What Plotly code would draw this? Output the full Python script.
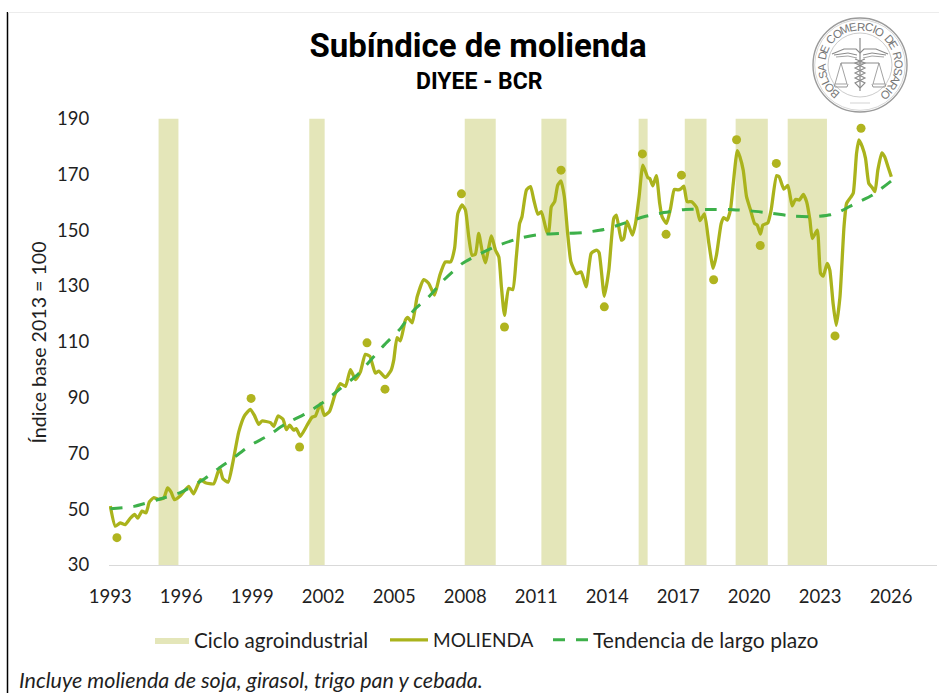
import math
import plotly.graph_objects as go

W, H = 939, 693

# ---------- data ----------
molienda_year = [1993.00,1993.21,1993.42,1993.63,1993.85,1994.03,1994.16,1994.34,1994.51,1994.65,1994.83,1995.04,1995.26,1995.42,1995.57,1995.71,1995.96,1996.31,1996.52,1996.81,1997.02,1997.37,1997.62,1997.76,1997.98,1998.17,1998.43,1998.68,1998.92,1999.09,1999.27,1999.41,1999.77,1999.91,2000.09,2000.30,2000.44,2000.58,2000.75,2000.86,2001.03,2001.32,2001.53,2001.67,2001.88,2002.05,2002.27,2002.51,2002.72,2002.94,2003.15,2003.36,2003.57,2003.78,2003.97,2004.20,2004.35,2004.63,2004.87,2004.98,2005.12,2005.26,2005.47,2005.57,2005.76,2005.97,2006.25,2006.46,2006.70,2006.93,2007.16,2007.38,2007.55,2007.69,2007.87,2008.01,2008.15,2008.29,2008.43,2008.57,2008.71,2008.85,2009.11,2009.28,2009.42,2009.53,2009.66,2009.84,2010.01,2010.16,2010.30,2010.40,2010.59,2010.76,2010.90,2011.07,2011.22,2011.46,2011.53,2011.64,2011.78,2011.91,2012.05,2012.19,2012.33,2012.47,2012.70,2012.90,2013.11,2013.32,2013.46,2013.57,2013.66,2013.88,2014.07,2014.28,2014.39,2014.60,2014.70,2014.84,2015.07,2015.20,2015.35,2015.51,2015.72,2015.80,2015.93,2016.08,2016.22,2016.32,2016.51,2016.68,2016.84,2017.00,2017.13,2017.24,2017.38,2017.57,2017.78,2017.92,2018.11,2018.30,2018.48,2018.62,2018.82,2018.93,2019.07,2019.21,2019.33,2019.50,2019.61,2019.75,2019.89,2020.06,2020.23,2020.34,2020.48,2020.58,2020.79,2020.93,2021.16,2021.27,2021.47,2021.64,2021.82,2021.96,2022.13,2022.29,2022.43,2022.57,2022.67,2022.88,2023.02,2023.13,2023.30,2023.41,2023.55,2023.68,2023.84,2024.01,2024.12,2024.29,2024.40,2024.54,2024.64,2024.78,2024.92,2025.06,2025.20,2025.32,2025.44,2025.61,2025.73,2025.87,2026.01]
molienda_value = [51.1,43.9,45.1,44.5,46.8,48.1,46.8,49.3,48.7,52.6,54.1,53.5,54.0,57.6,56.1,53.4,54.8,58.2,55.5,60.6,59.5,59.1,64.9,60.9,59.7,66.3,77.7,83.6,85.8,83.6,80.4,81.6,81.0,79.7,83.4,82.2,78.5,80.1,78.3,78.9,76.1,80.1,83.0,83.4,87.8,83.6,85.1,91.4,95.0,94.0,100.0,96.4,99.2,105.5,104.8,98.8,99.5,97.2,99.8,103.4,111.5,110.3,117.7,118.7,116.8,126.1,132.3,130.9,126.7,133.9,138.6,138.6,143.4,156.0,159.0,157.2,147.6,141.0,141.4,148.8,142.8,138.3,147.9,142.8,140.4,129.7,119.5,129.1,128.7,140.4,152.4,154.8,164.4,165.6,160.8,155.7,156.6,149.1,149.4,158.4,160.2,166.1,167.6,162.0,148.8,138.6,134.4,135.0,129.7,141.6,142.5,142.8,141.9,126.3,135.6,154.2,155.4,146.4,147.0,153.2,148.2,152.4,162.0,173.3,168.8,168.5,165.9,169.5,159.6,154.8,152.4,157.8,164.6,164.4,164.9,165.8,160.2,160.2,158.1,153.4,155.8,145.2,136.3,141.1,152.4,154.5,153.6,157.2,166.7,178.5,176.3,171.5,162.0,157.2,152.4,151.8,148.6,151.8,152.6,157.2,169.5,169.1,164.7,166.0,158.7,161.0,160.8,162.8,160.2,153.6,147.0,150.0,134.5,133.5,138.1,135.7,123.7,115.9,126.1,151.2,159.6,161.7,163.2,177.5,182.3,179.9,175.7,166.7,165.3,163.8,171.5,177.7,176.3,172.7,169.1]

tendencia_year = [1993.00,1994.00,1995.00,1996.00,1997.00,1997.62,1998.07,1998.92,1999.62,2000.47,2001.25,2002.02,2002.72,2003.50,2004.13,2004.56,2005.26,2005.83,2006.46,2007.09,2007.87,2008.50,2009.42,2010.26,2011.10,2012.02,2012.94,2013.86,2014.70,2015.55,2016.39,2017.31,2018.23,2019.14,2020.06,2020.98,2021.89,2022.74,2023.44,2023.87,2024.43,2025.20,2026.00]
tendencia_value = [50.2,51.0,53.4,56.1,61.0,64.9,67.5,72.9,76.1,80.9,84.2,88.4,93.2,98.6,104.6,108.7,114.7,121.3,126.1,132.1,138.0,141.0,144.6,147.0,148.4,148.8,149.1,150.2,152.4,154.8,156.3,157.4,157.4,157.4,156.9,156.0,155.0,154.8,155.5,156.8,159.3,162.5,167.6]

extremos_year = [1993.28,1998.95,2001.00,2003.85,2004.61,2007.84,2009.66,2012.05,2013.88,2015.49,2016.49,2017.14,2018.50,2019.47,2020.47,2021.15,2023.63,2024.73]
extremos_value = [39.8,89.7,72.3,109.6,93.0,163.0,115.3,171.5,122.5,177.3,148.5,169.7,132.2,182.4,144.5,173.9,112.1,186.5]

ciclo_inicio = [1995.04,2001.41,2007.98,2011.22,2015.33,2017.28,2019.43,2021.63]
ciclo_fin = [1995.88,2002.06,2009.29,2012.28,2015.71,2018.20,2020.79,2023.29]

y_ticks = [30,50,70,90,110,130,150,170,190]
x_ticks = [1993,1996,1999,2002,2005,2008,2011,2014,2017,2020,2023,2026]

TITLE = "Subíndice de molienda"
SUBTITLE = "DIYEE - BCR"
NOTE = "Incluye molienda de soja, girasol, trigo pan y cebada."
Y_TITLE = "Índice base 2013 = 100"
SEAL_TEXT = "BOLSA DE COMERCIO DE ROSARIO"

# ---------- styling ----------
OLIVE = "#AAB31C"
DOT = "#B0B41F"
GREEN = "#3DB04A"
BAND = "#E4E6B9"
TEXT = "#1f1f1f"
SANS = "Lato, Carlito, sans-serif"
HEAD = "Roboto, sans-serif"
GREY = "#8a8a8a"

def px(x):
    return x / W
def py(y):
    return 1 - y / H

fig = go.Figure()

band_x, band_y = [], []
for a, b in zip(ciclo_inicio, ciclo_fin):
    band_x += [a, b, b, a, a, None]
    band_y += [y_ticks[0], y_ticks[0], y_ticks[-1], y_ticks[-1], y_ticks[0], None]
fig.add_trace(go.Scatter(x=band_x, y=band_y, mode="lines", fill="toself", fillcolor=BAND, legend="legend",
                         line=dict(width=0, color=BAND), name="Ciclo agroindustrial", hoverinfo="skip"))
fig.add_trace(go.Scatter(x=molienda_year, y=molienda_value, mode="lines", name="MOLIENDA", legend="legend2",
                         line=dict(color=OLIVE, width=3.3, shape="spline", smoothing=0.5)))
fig.add_trace(go.Scatter(x=tendencia_year, y=tendencia_value, mode="lines", name="Tendencia de largo plazo", legend="legend3",
                         line=dict(color=GREEN, width=3, dash="12px,11px", shape="spline", smoothing=0.6)))
fig.add_trace(go.Scatter(x=extremos_year, y=extremos_value, mode="markers", showlegend=False,
                         marker=dict(color=DOT, size=9), name="Extremos"))

shapes = [
    dict(type="line", xref="paper", yref="paper", x0=px(7.5), x1=px(7.5), y0=py(12), y1=0,
         line=dict(color="#000000", width=1.5), layer="above"),
    dict(type="line", xref="paper", yref="paper", x0=px(8), x1=1, y0=py(12.5), y1=py(12.5),
         line=dict(color="#ececec", width=1)),
]
annotations = [
    dict(text=SUBTITLE, x=px(479), y=py(82), xref="paper", yref="paper", showarrow=False,
         font=dict(family=HEAD, size=23, color="#000000", weight="bold"), xanchor="center", yanchor="middle"),
    dict(text=NOTE, x=px(17), y=py(679.5), xref="paper", yref="paper", showarrow=False,
         font=dict(family=SANS, size=21.5, color=TEXT, style="italic"), xanchor="left", yanchor="middle"),
    dict(text=Y_TITLE, x=px(38), y=py(342.5), xref="paper", yref="paper", showarrow=False, textangle=-90,
         font=dict(family=SANS, size=19.6, color=TEXT), xanchor="center", yanchor="middle"),
]

# ---------- seal (decoration, pixel placed) ----------
CX, CY = 860, 65
def circle(r, width, color=GREY):
    return dict(type="circle", xref="paper", yref="paper", x0=px(CX - r), x1=px(CX + r),
                y0=py(CY + r), y1=py(CY - r), line=dict(color=color, width=width))
def poly(points, width=0.8, color=GREY, close=False):
    path = "M " + " L ".join(f"{px(CX + a):.5f},{py(CY + b):.5f}" for a, b in points)
    if close:
        path += " Z"
    return dict(type="path", xref="paper", yref="paper", path=path, line=dict(color=color, width=width))

shapes += [circle(47, 1.4, "#9a9a9a"), circle(45.3, 0.6, "#bbbbbb"), circle(32, 0.7, "#b5b5b5")]
shapes += [
    poly([(0, -27), (0, 26)], 1.2),
    poly([(-28, -11), (-16, -16), (-4, -16), (0, -12), (4, -16), (16, -16), (28, -11)], 1.2),
    poly([(-26, -10), (-12, -12), (-3, -10)], 1), poly([(26, -10), (12, -12), (3, -10)], 1),
    poly([(-24, -8), (-12, -9), (-3, -7)], 0.8), poly([(24, -8), (12, -9), (3, -7)], 0.8),
    poly([(-19, -2), (19, -2)], 1),
    poly([(-19, -2), (-25, 19), (-13, 19)], 0.8, close=True),
    poly([(19, -2), (25, 19), (13, 19)], 0.8, close=True),
    poly([(-26, 19), (-25, 22), (-13, 22), (-12, 19)], 0.9),
    poly([(26, 19), (25, 22), (13, 22), (12, 19)], 0.9),
    poly([(-5, -6), (5, -2), (-5, 3), (5, 8), (-5, 13), (5, 18), (0, 23)], 1.1),
    poly([(5, -6), (-5, -2), (5, 3), (-5, 8), (5, 13), (-5, 18), (0, 23)], 1.1),
    poly([(-10, 38), (10, 38)], 0.6, "#b5b5b5"),
]
# letters of the seal: spread by rough glyph width round the ring
glyph = {" ": 0.55, "I": 0.45, "M": 1.25, "O": 1.15, "C": 1.1, "R": 1.05, "E": 0.95, "L": 0.85, "S": 0.95}
widths = [glyph.get(c, 1.0) for c in SEAL_TEXT]
total = sum(widths) - widths[0] / 2 - widths[-1] / 2
pos = 0.0
for i, ch in enumerate(SEAL_TEXT):
    if i:
        pos += (widths[i - 1] + widths[i]) / 2
    if ch == " ":
        continue
    ang = -138 + 278 * pos / total
    rad = math.radians(ang)
    annotations.append(dict(text=ch, x=px(CX + 38.5 * math.sin(rad)), y=py(CY - 38.5 * math.cos(rad)),
                            xref="paper", yref="paper", showarrow=False, textangle=ang,
                            font=dict(family="Liberation Sans, sans-serif", size=11.5, color="#777777"),
                            xanchor="center", yanchor="middle"))

x0 = 1993 + (109 - 110.3) / 23.66
x1 = 1993 + (936.5 - 110.3) / 23.66

def legend_at(x, width, size):
    return dict(orientation="h", x=px(x), y=py(640), xanchor="left", yanchor="middle",
                itemwidth=width, bgcolor="rgba(0,0,0,0)", font=dict(family=SANS, size=size, color=TEXT))

fig.update_layout(
    width=W, height=H, autosize=False,
    margin=dict(l=0, r=0, t=0, b=0, pad=0),
    paper_bgcolor="white", plot_bgcolor="white",
    title=dict(text=TITLE, x=478 / W, y=py(45), xanchor="center", yanchor="middle", xref="paper", yref="paper",
               automargin=False, font=dict(family=HEAD, size=33, color="#000000", weight="bold")),
    xaxis=dict(domain=[px(109), px(936.5)], range=[x0, x1], tickmode="array", tickvals=x_ticks, automargin=False,
               ticktext=[str(v) for v in x_ticks], showgrid=False, zeroline=False,
               showline=True, linecolor="#d9d9d9", linewidth=1,
               ticks="outside", ticklen=15, tickcolor="rgba(0,0,0,0)",
               tickfont=dict(family=SANS, size=18.5, color=TEXT)),
    yaxis=dict(domain=[py(565), py(118.5)], range=[30, 190], tickmode="array", tickvals=y_ticks, automargin=False,
               ticktext=[str(v) for v in y_ticks], showgrid=False, zeroline=False, showline=False,
               ticks="outside", ticklen=15, tickcolor="rgba(0,0,0,0)",
               tickfont=dict(family=SANS, size=18.5, color=TEXT)),
    legend=legend_at(150, 34, 20.7),
    legend2=legend_at(385, 38, 19),
    legend3=legend_at(548, 35, 21),
    shapes=shapes, annotations=annotations, showlegend=True,
)

fig.write_html("out.html", post_script="document.body.style.margin='0';document.documentElement.style.overflow='hidden';",
               config=dict(displayModeBar=False))
